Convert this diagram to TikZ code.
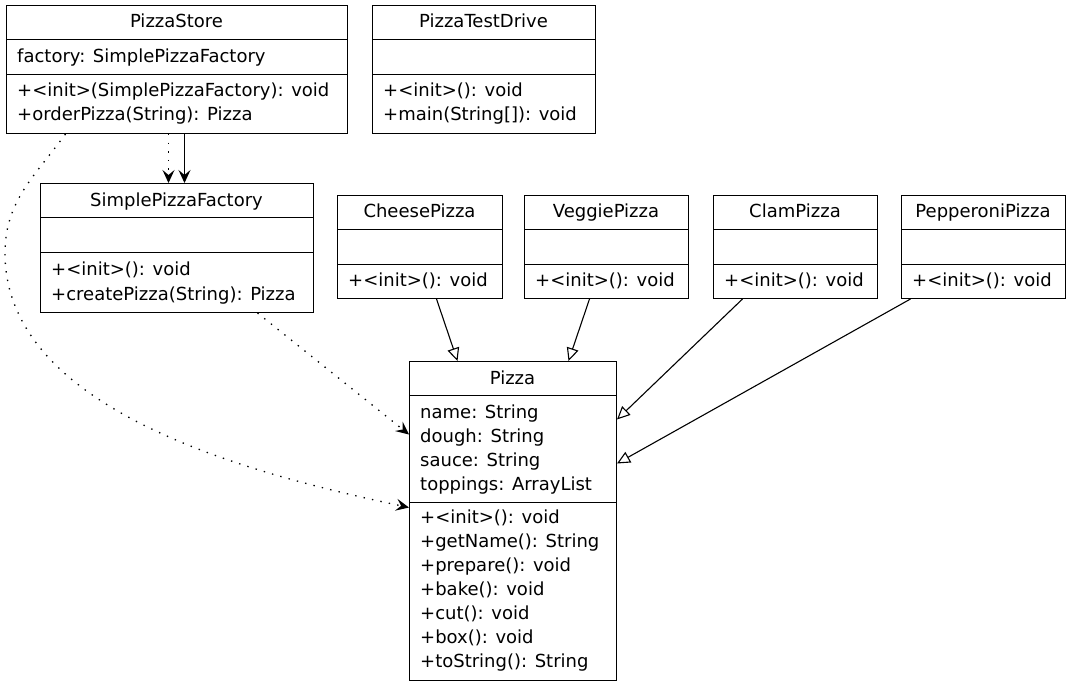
\documentclass[tikz,border=0pt]{standalone}
\usepackage{fontspec}
\setmainfont{DejaVu Sans}
\usetikzlibrary{arrows.meta}
\begin{document}
\begin{tikzpicture}[x=1pt,y=-1pt,
  font=\fontsize{18}{24}\selectfont,
  cls/.style={draw, line width=1pt, inner sep=0pt, anchor=north west},
  sepline/.style={line width=1pt},
  ttl/.style={anchor=base, inner sep=0pt},
  txt/.style={anchor=base west, inner sep=0pt},
  veetip/.style={-{Stealth[length=13pt,width=12pt,inset=5pt]}},
  dep/.style={line width=1.3pt, dash pattern=on 1.4pt off 7.2pt, veetip},
  assoc/.style={line width=1.1pt, veetip},
  gen/.style={line width=1.1pt, -{Triangle[open,length=13pt,width=12pt]}}]
\useasboundingbox (0,0) rectangle (1071,687);

% PizzaStore
\node[cls, minimum width=341pt, minimum height=128pt] (ps) at (6,5) {};
\draw[sepline] (6,39.5) -- (347,39.5) (6,75) -- (347,75);
\node[ttl] (ps-t) at (176.5,28) {PizzaStore};
\node[txt] (ps-a1) at (17,63) {factory: SimplePizzaFactory};
\node[txt] (ps-m1) at (17,97) {+<init>(SimplePizzaFactory): void};
\node[txt] (ps-m2) at (17,121) {+orderPizza(String): Pizza};

% PizzaTestDrive
\node[cls, minimum width=223pt, minimum height=128pt] (ptd) at (372,5) {};
\draw[sepline] (372,39.5) -- (595,39.5) (372,75) -- (595,75);
\node[ttl] (ptd-t) at (483.5,28) {PizzaTestDrive};
\node[txt] (ptd-m1) at (383,97) {+<init>(): void};
\node[txt] (ptd-m2) at (383,121) {+main(String[]): void};

% SimplePizzaFactory
\node[cls, minimum width=273pt, minimum height=129pt] (spf) at (40,183) {};
\draw[sepline] (40,218) -- (313,218) (40,253) -- (313,253);
\node[ttl] (spf-t) at (176.5,206.5) {SimplePizzaFactory};
\node[txt] (spf-m1) at (51,276) {+<init>(): void};
\node[txt] (spf-m2) at (51,300) {+createPizza(String): Pizza};

% CheesePizza
\node[cls, minimum width=165pt, minimum height=103pt] (cp) at (337,195) {};
\draw[sepline] (337,229.5) -- (502,229.5) (337,264) -- (502,264);
\node[ttl] (cp-t) at (419.5,218) {CheesePizza};
\node[txt] (cp-m1) at (348,287) {+<init>(): void};

% VeggiePizza
\node[cls, minimum width=164pt, minimum height=103pt] (vp) at (524,195) {};
\draw[sepline] (524,229.5) -- (688,229.5) (524,264) -- (688,264);
\node[ttl] (vp-t) at (606,218) {VeggiePizza};
\node[txt] (vp-m1) at (535,287) {+<init>(): void};

% ClamPizza
\node[cls, minimum width=164pt, minimum height=103pt] (clp) at (713,195) {};
\draw[sepline] (713,229.5) -- (877,229.5) (713,264) -- (877,264);
\node[ttl] (clp-t) at (795,218) {ClamPizza};
\node[txt] (clp-m1) at (724,287) {+<init>(): void};

% PepperoniPizza
\node[cls, minimum width=164pt, minimum height=103pt] (pp) at (901,195) {};
\draw[sepline] (901,229.5) -- (1065,229.5) (901,264) -- (1065,264);
\node[ttl] (pp-t) at (983,218) {PepperoniPizza};
\node[txt] (pp-m1) at (912,287) {+<init>(): void};

% Pizza
\node[cls, minimum width=207pt, minimum height=319pt] (pz) at (409,361) {};
\draw[sepline] (409,395) -- (616,395) (409,502) -- (616,502);
\node[ttl] (pz-t) at (512.5,384) {Pizza};
\node[txt] (pz-a1) at (420,418) {name: String};
\node[txt] (pz-a2) at (420,442) {dough: String};
\node[txt] (pz-a3) at (420,466) {sauce: String};
\node[txt] (pz-a4) at (420,490) {toppings: ArrayList};
\node[txt] (pz-m1) at (420,523) {+<init>(): void};
\node[txt] (pz-m2) at (420,547) {+getName(): String};
\node[txt] (pz-m3) at (420,571) {+prepare(): void};
\node[txt] (pz-m4) at (420,595) {+bake(): void};
\node[txt] (pz-m5) at (420,619) {+cut(): void};
\node[txt] (pz-m6) at (420,643) {+box(): void};
\node[txt] (pz-m7) at (420,667) {+toString(): String};

% connectors
\draw[dep] ([xshift=-8.5pt]ps.south) -- ([xshift=-8.5pt]spf.north);
\draw[assoc] ([xshift=7.5pt]ps.south) -- ([xshift=7.5pt]spf.north);
\draw[dep] ([xshift=80.5pt]spf.south) -- ([yshift=86.5pt]pz.west);
\coordinate (bendpt) at (5,253);
\draw[dep] ([xshift=-111.5pt]ps.south) to[out=234,in=90] (bendpt)
  to[out=270,in=168,looseness=0.85] ([yshift=13.5pt]pz.west);
\draw[gen] ([xshift=16.5pt]cp.south) -- ([xshift=-55.5pt]pz.north);
\draw[gen] ([xshift=-17pt]vp.south) -- ([xshift=55.5pt]pz.north);
\draw[gen] ([xshift=-53pt]clp.south) -- ([yshift=101.5pt]pz.east);
\draw[gen] ([xshift=-73pt]pp.south) -- ([yshift=57.5pt]pz.east);
\end{tikzpicture}
\end{document}
